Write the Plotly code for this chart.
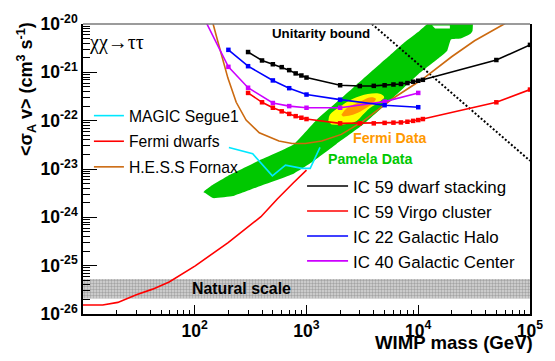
import plotly.graph_objects as go

FONT = "Liberation Sans"

# ---------------- data (WIMP mass in GeV, <sigma_A v> in cm^3 s^-1) ----------------
ic59_mass = [300, 400, 500, 600, 700, 800, 900, 1000, 2000, 3000, 4000, 5000, 6000,
             7000, 8000, 9000, 10000, 11000, 50000, 100000]
ic59_dwarf_sv = [2.63e-21, 1.76e-21, 1.47e-21, 1.28e-21, 1.11e-21, 9.5e-22, 8.6e-22,
                 7.8e-22, 5.4e-22, 5.2e-22, 5.25e-22, 5.4e-22, 5.6e-22, 5.75e-22,
                 6.0e-22, 6.4e-22, 6.7e-22, 7.0e-22, 1.8e-21, 3.7e-21]
ic59_virgo_sv = [3.75e-22, 2.4e-22, 1.85e-22, 1.56e-22, 1.38e-22, 1.24e-22, 1.15e-22,
                 1.08e-22, 8.8e-23, 8.8e-23, 8.8e-23, 9.0e-23, 9.1e-23, 9.2e-23,
                 9.5e-23, 9.9e-23, 1.03e-22, 1.08e-22, 2.4e-22, 4.4e-22]

ic22_halo_mass = [200, 300, 500, 700, 1000, 2000, 5000, 10000]
ic22_halo_sv = [2.92e-21, 1.34e-21, 6.8e-22, 4.7e-22, 3.47e-22, 2.72e-22, 2.09e-22, 1.9e-22]

ic40_gc_mass = [100, 200, 300, 500, 700, 1000, 2000, 5000, 10000]
ic40_gc_sv = [3.2e-20, 1.3e-21, 4.8e-22, 2.32e-22, 2.0e-22, 1.85e-22, 1.85e-22, 2.48e-22, 3.75e-22]

fermi_dwarfs_mass = [10, 15, 20.5, 30, 42, 59, 101, 199, 391, 548, 764, 1000]
fermi_dwarfs_sv = [1.53e-26, 1.53e-26, 1.74e-26, 2.5e-26, 3.27e-26, 4.6e-26, 9.9e-26,
                   3.0e-25, 1.03e-24, 2.4e-24, 5.2e-24, 9.5e-24]

magic_mass = [202, 330, 495, 649, 910, 1079, 1321]
magic_sv = [2.79e-23, 2.06e-23, 7.2e-24, 1.2e-23, 1.03e-23, 1.03e-23, 2.79e-23]

hess_mass = [124, 146, 162, 198, 235, 288, 378, 567, 743, 975, 1368, 2051, 3192,
             5875, 10800, 19900, 31900, 58700, 88100]
hess_sv = [2.75e-20, 1e-20, 4.1e-21, 7.6e-22, 2.4e-22, 1.03e-22, 5.6e-23, 3.8e-23,
           3.36e-23, 3.36e-23, 3.8e-23, 5.2e-23, 9.7e-23, 2.84e-22, 7.1e-22, 2.1e-21,
           4.5e-21, 1e-20, 1.9e-20]

# PAMELA-favoured region (outline)
pamela_mass = [119.5, 124, 146, 198, 380, 759, 1236, 2618, 5128, 7690, 10230, 12020,
               13300, 30600, 30600, 29400, 24000, 19600, 18100, 15000, 10020, 5900,
               3210, 1855, 1117, 759, 380, 220, 146, 124]
pamela_sv = [3.3e-24, 3.63e-24, 4.8e-24, 7.2e-24, 1.51e-23, 3.16e-23, 1.05e-22, 4.8e-22,
             1.9e-21, 4.37e-21, 7.2e-21, 1e-20, 1.26e-20, 1.26e-20, 7.2e-21, 6.3e-21,
             5.0e-21, 4.8e-21, 2.75e-21, 1.9e-21, 9.1e-22, 2.9e-22, 8.3e-23, 3.3e-23,
             1.38e-23, 7.9e-24, 4.4e-24, 2.75e-24, 2.5e-24, 3.2e-24]
pamela_hole_mass = [13320, 19200, 19200, 14160]
pamela_hole_sv = [9.3e-21, 9.3e-21, 8.1e-21, 8.1e-21]

# Fermi-favoured regions (outer / inner contour)
fermi_outer_mass = [1567, 1618, 1982, 2606, 3532, 4625, 4955, 4477, 3648, 3192, 2786, 2123, 1675]
fermi_outer_sv = [9.7e-23, 1.32e-22, 1.93e-22, 2.84e-22, 3.58e-22, 3.58e-22, 3.06e-22,
                  2.43e-22, 1.79e-22, 1.32e-22, 9.7e-23, 8.3e-23, 8.3e-23]
fermi_inner_mass = [2051, 2275, 2979, 3776, 4178, 3908, 3192, 2606, 2123]
fermi_inner_sv = [1.32e-22, 1.79e-22, 2.43e-22, 3.06e-22, 2.84e-22, 2.26e-22, 1.66e-22,
                  1.32e-22, 1.22e-22]

unitarity_mass = [3000, 100000]
unitarity_sv = [1.65e-20, 1.48e-23]

natural_mass = [10, 100000]
natural_sv = [2.1e-26, 5.3e-26]

x_tick_vals = [1e2, 1e3, 1e4, 1e5]
x_tick_text = ["10<sup>2</sup>", "10<sup>3</sup>", "10<sup>4</sup>", "10<sup>5</sup>"]
y_tick_vals = [1e-26, 1e-25, 1e-24, 1e-23, 1e-22, 1e-21, 1e-20]
y_tick_text = ["10<sup>-26</sup>", "10<sup>-25</sup>", "10<sup>-24</sup>", "10<sup>-23</sup>",
               "10<sup>-22</sup>", "10<sup>-21</sup>", "10<sup>-20</sup>"]
x_minor = [d * 10 ** e for e in range(1, 5) for d in range(2, 10)]
y_minor = [d * 10.0 ** e for e in range(-26, -20) for d in range(2, 10)]

# ---------------- colours ----------------
C_GREEN = "#00c800"
C_YELLOW = "#ffff00"
C_ORANGE = "#ff9900"
C_CYAN = "#00e8ff"
C_RED = "#ff0000"
C_BROWN = "#cc6a10"
C_BLUE = "#0000ff"
C_MAGENTA = "#cc00ff"

fig = go.Figure()

# natural-scale band
fig.add_trace(go.Scatter(
    x=[natural_mass[0], natural_mass[1], natural_mass[1], natural_mass[0]],
    y=[natural_sv[0], natural_sv[0], natural_sv[1], natural_sv[1]],
    fill="toself", mode="lines", line=dict(width=0),
    fillcolor="#d0d0d0",
    fillpattern=dict(shape=".", size=3, solidity=0.5, fgcolor="#707070", bgcolor="#d8d8d8"),
    showlegend=False, hoverinfo="skip"))

# favoured regions
fig.add_trace(go.Scatter(x=pamela_mass, y=pamela_sv, fill="toself", mode="lines",
                         line=dict(width=0, color=C_GREEN, shape="spline", smoothing=0.3),
                         fillcolor=C_GREEN, showlegend=False, hoverinfo="skip"))
fig.add_trace(go.Scatter(x=pamela_hole_mass, y=pamela_hole_sv, fill="toself", mode="lines",
                         line=dict(width=0), fillcolor="white",
                         showlegend=False, hoverinfo="skip"))
fig.add_trace(go.Scatter(x=fermi_outer_mass, y=fermi_outer_sv, fill="toself", mode="lines",
                         line=dict(width=0, shape="spline", smoothing=1),
                         fillcolor=C_YELLOW, showlegend=False, hoverinfo="skip"))
fig.add_trace(go.Scatter(x=fermi_inner_mass, y=fermi_inner_sv, fill="toself", mode="lines",
                         line=dict(width=0, shape="spline", smoothing=1),
                         fillcolor=C_ORANGE, showlegend=False, hoverinfo="skip"))

# unitarity bound
fig.add_trace(go.Scatter(x=unitarity_mass, y=unitarity_sv, mode="lines",
                         line=dict(color="black", width=2, dash="2px,2px"),
                         showlegend=False, hoverinfo="skip"))

# gamma-ray limits
fig.add_trace(go.Scatter(x=hess_mass, y=hess_sv, mode="lines",
                         line=dict(color=C_BROWN, width=1.6), showlegend=False))
fig.add_trace(go.Scatter(x=magic_mass, y=magic_sv, mode="lines",
                         line=dict(color=C_CYAN, width=1.6), showlegend=False))
fig.add_trace(go.Scatter(x=fermi_dwarfs_mass, y=fermi_dwarfs_sv, mode="lines",
                         line=dict(color=C_RED, width=1.6), showlegend=False))

# IceCube limits
mk = dict(symbol="square", size=4.5)
fig.add_trace(go.Scatter(x=ic40_gc_mass, y=ic40_gc_sv, mode="lines+markers",
                         line=dict(color=C_MAGENTA, width=1.6), marker=dict(color=C_MAGENTA, **mk),
                         showlegend=False))
fig.add_trace(go.Scatter(x=ic22_halo_mass, y=ic22_halo_sv, mode="lines+markers",
                         line=dict(color=C_BLUE, width=1.6), marker=dict(color=C_BLUE, **mk),
                         showlegend=False))
fig.add_trace(go.Scatter(x=ic59_mass, y=ic59_virgo_sv, mode="lines+markers",
                         line=dict(color=C_RED, width=1.6), marker=dict(color=C_RED, **mk),
                         showlegend=False))
fig.add_trace(go.Scatter(x=ic59_mass, y=ic59_dwarf_sv, mode="lines+markers",
                         line=dict(color="black", width=1.6), marker=dict(color="black", **mk),
                         showlegend=False))

# legend entries
left_entries = [("MAGIC Segue1", C_CYAN), ("Fermi dwarfs", C_RED), ("H.E.S.S Fornax", C_BROWN)]
right_entries = [("IC 59 dwarf stacking", "black"), ("IC 59 Virgo cluster", C_RED),
                 ("IC 22 Galactic Halo", C_BLUE), ("IC 40 Galactic Center", C_MAGENTA)]
for name, col in left_entries:
    fig.add_trace(go.Scatter(x=[None], y=[None], mode="lines", name=name, legend="legend",
                             legendgroup=name, line=dict(color=col, width=1.6)))
for name, col in right_entries:
    fig.add_trace(go.Scatter(x=[None], y=[None], mode="lines", name=name, legend="legend2",
                             legendgroup=name, line=dict(color=col, width=1.6)))

W, H = 555, 361
ML, MR, MT, MB = 83, 19, 14, 47
PW, PH = W - ML - MR, H - MT - MB


def px(x):
    return (x - ML) / PW


def py(y):
    return (H - MB - y) / PH


tick_font = dict(family=FONT, size=17.5, color="black", weight="bold")

fig.update_layout(
    width=W, height=H,
    margin=dict(l=ML, r=MR, t=MT, b=MB),
    paper_bgcolor="white", plot_bgcolor="white",
    font=dict(family=FONT, color="black"),
    xaxis=dict(type="log", range=[0.9999, 5.0001], showgrid=False, zeroline=False,
               showline=True, linecolor="black", linewidth=1.5, mirror=False,
               ticks="inside", ticklen=9, tickwidth=1.2, tickcolor="black",
               tickmode="array", tickvals=x_tick_vals, ticktext=x_tick_text,
               tickfont=tick_font,
               minor=dict(tickmode="array", tickvals=x_minor, ticks="inside",
                          ticklen=4.5, tickwidth=1, tickcolor="black")),
    yaxis=dict(type="log", range=[-26.0001, -19.9999], showgrid=False, zeroline=False,
               showline=True, linecolor="black", linewidth=1.5, mirror=True,
               ticks="inside", ticklen=14, tickwidth=1.2, tickcolor="black",
               tickmode="array", tickvals=y_tick_vals, ticktext=y_tick_text,
               tickfont=tick_font,
               minor=dict(tickmode="array", tickvals=y_minor, ticks="inside",
                          ticklen=7, tickwidth=1, tickcolor="black")),
    legend=dict(x=px(89), y=py(91.5), xanchor="left", yanchor="top",
                bgcolor="rgba(0,0,0,0)", borderwidth=0, traceorder="grouped",
                tracegroupgap=2.2, font=dict(family=FONT, size=15.7, color="black")),
    legend2=dict(x=px(305), y=py(163.5), xanchor="left", yanchor="top",
                 bgcolor="rgba(0,0,0,0)", borderwidth=0, traceorder="grouped",
                 itemwidth=41, tracegroupgap=0,
                 font=dict(family=FONT, size=16.9, color="black")),
    shapes=[dict(type="line", xref="paper", yref="paper", x0=0, x1=1, y0=1, y1=1,
                 line=dict(color="#7a7a7a", width=1.5))],
    showlegend=True,
)

annotations = [
    dict(text="χχ→ττ", x=px(87), y=py(33), xanchor="left", yanchor="middle",
         font=dict(family="Liberation Serif", size=20, color="black")),
    dict(text="Unitarity bound", x=px(273), y=py(24), xanchor="left", yanchor="middle",
         font=dict(family=FONT, size=13.3, color="black", weight="bold")),
    dict(text="Fermi Data", x=px(355), y=py(132.3), xanchor="left", yanchor="middle",
         font=dict(family=FONT, size=14.2, color=C_ORANGE, weight="bold")),
    dict(text="Pamela Data", x=px(329.3), y=py(153.3), xanchor="left", yanchor="middle",
         font=dict(family=FONT, size=14.2, color=C_GREEN, weight="bold")),
    dict(text="Natural scale", x=px(191.3), y=py(287.7), xanchor="left", yanchor="middle",
         font=dict(family=FONT, size=15.9, color="black", weight="bold")),
    dict(text="WIMP mass (GeV)", x=px(541), y=py(343.3), xanchor="right", yanchor="middle",
         font=dict(family=FONT, size=18.6, color="black", weight="bold")),
    dict(text="<σ<sub>A</sub> v> (cm<sup>3</sup> s<sup>-1</sup>)", x=px(25), y=py(10),
         xanchor="center", yanchor="top", textangle=-90,
         font=dict(family=FONT, size=18, color="black", weight="bold")),
]
for a in annotations:
    a.update(xref="paper", yref="paper", showarrow=False)
fig.update_layout(annotations=annotations)

fig.write_html("out.html")
